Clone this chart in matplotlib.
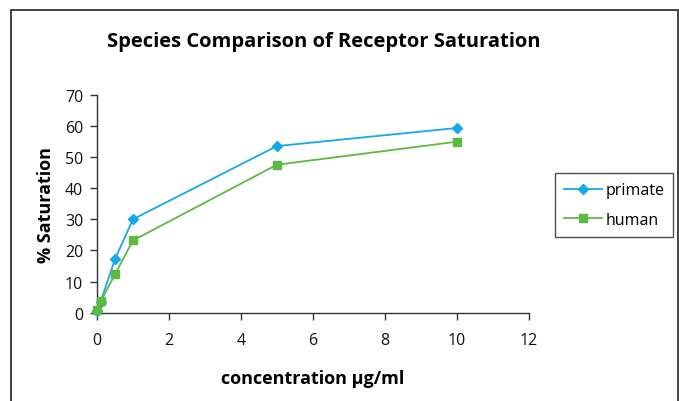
import matplotlib
matplotlib.use("Agg")
import matplotlib.pyplot as plt
from matplotlib.patches import Rectangle

concentration = [0, 0.1, 0.5, 1, 5, 10]
primate = [0.5, 3.5, 17.2, 30.0, 53.5, 59.3]
human = [0.8, 3.6, 12.3, 23.2, 47.5, 54.9]
x_ticks = [0, 2, 4, 6, 8, 10, 12]
y_ticks = [0, 10, 20, 30, 40, 50, 60, 70]

plt.rcParams['font.family'] = ['Open Sans', 'DejaVu Sans']

fig = plt.figure(figsize=(6.79, 4.02), dpi=100)
W, H = 679, 402
ax = fig.add_axes([97 / W, 1 - 313.7 / H, (528.6 - 97) / W, (313.7 - 95.7) / H])

ax.plot(concentration, primate, color='#14a9e8', lw=1.3, marker='D', ms=5.5,
        label='primate', zorder=3)
ax.plot(concentration, human, color='#5cb944', lw=1.3, marker='s', ms=5.5,
        label='human', zorder=3)

ax.set_xlim(0, 12)
ax.set_ylim(0, 70)
ax.set_xticks(x_ticks)
ax.set_yticks(y_ticks)
for s in ['top', 'right']:
    ax.spines[s].set_visible(False)
for s in ['left', 'bottom']:
    ax.spines[s].set_color('#333333')
    ax.spines[s].set_linewidth(1.0)
ax.tick_params(axis='both', direction='out', length=5, width=1, color='#333333',
               labelsize=11.5, labelcolor='#111111')
ax.tick_params(axis='x', pad=9)
ax.tick_params(axis='y', pad=5)
ax.margins(0)
for ln in ax.lines:
    ln.set_clip_on(False)

ax.set_xlabel('concentration µg/ml', fontsize=13, fontweight='bold', labelpad=15)
ax.set_ylabel('% Saturation', fontsize=13, fontweight='bold', labelpad=7)
fig.text(324 / W, 1 - 42 / H, 'Species Comparison of Receptor Saturation',
         ha='center', va='center', fontsize=14.5, fontweight='bold')

leg = ax.legend(loc='center left', bbox_to_anchor=(555 / W, 1 - 206 / H),
                bbox_transform=fig.transFigure, frameon=True, fancybox=False,
                edgecolor='#222222', fontsize=11.5, handlelength=2.4,
                borderpad=0.55, labelspacing=0.85, handletextpad=0.2,
                borderaxespad=0)
leg.get_frame().set_linewidth(1.0)

fig.patches.append(Rectangle((11 / W, -0.1), (678 - 11) / W, 1.1 - 11 / H,
                             transform=fig.transFigure, fill=False,
                             edgecolor='#222222', lw=1.2))

fig.savefig('out.png', dpi=100)
